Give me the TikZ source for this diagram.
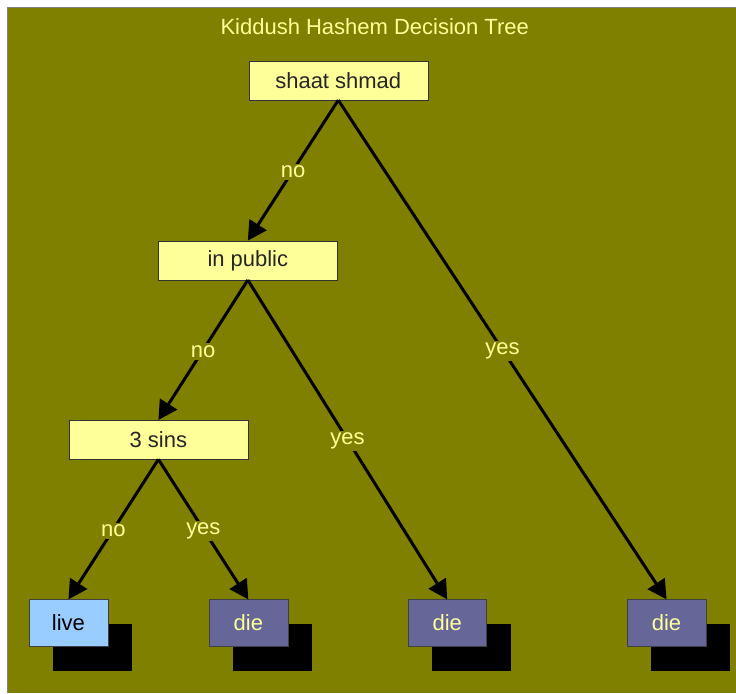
\documentclass[tikz,border=0pt]{standalone}
\usepackage{fontspec}
\setmainfont{Liberation Sans}
\usepackage{xcolor}
\usetikzlibrary{arrows.meta,shadows}

\definecolor{olivebg}{HTML}{808000}
\definecolor{paleyellow}{HTML}{FFFF99}
\definecolor{liveblue}{HTML}{99CCFF}
\definecolor{dieblue}{HTML}{666699}

\begin{document}
\begin{tikzpicture}[
  x=1pt, y=-1pt,
  >={Triangle[length=19pt,width=20pt]},
  txt/.style={font=\fontsize{22}{26}\selectfont},
  question/.style={txt, draw=black!80, fill=paleyellow, text=black!85,
    minimum width=179pt, minimum height=39pt, inner sep=0pt},
  leaf/.style={txt, draw=black!75, minimum width=79pt, minimum height=47pt,
    inner sep=0pt, drop shadow={shadow xshift=24pt, shadow yshift=-24pt,
    fill=black, opacity=1}},
  livebox/.style={leaf, fill=liveblue, text=black},
  diebox/.style={leaf, fill=dieblue, text=paleyellow},
  branch/.style={line width=3pt, ->},
  answer/.style={txt, fill=olivebg, text=paleyellow, inner sep=2pt, yshift=-1.5pt},
]
  % background and frame
  \fill[white] (0,0) rectangle (736,693);
  \fill[olivebg] (8,8) rectangle (736,693);
  \draw[gray, line width=1pt] (8,693) -- (8,8) -- (736,8);

  % title
  \node[txt, text=paleyellow] (title) at (375,27) {Kiddush Hashem Decision Tree};

  % questions
  \node[question] (shmad)  at (338.5,80.5) {shaat shmad};
  \node[question] (public) at (248,260.5) {in public};
  \node[question] (sins)   at (158.5,440) {3 sins};

  % outcomes
  \node[livebox] (live) at (68.5,623.5) {live};
  \node[diebox]  (die1) at (248.5,623.5) {die};
  \node[diebox]  (die2) at (447.5,623.5) {die};
  \node[diebox]  (die3) at (667,623.5) {die};

  % branches
  \draw[branch] (shmad.south) -- node[answer] {no} (public.north);
  \draw[branch] (shmad.south) -- node[answer] {yes} (die3.north);
  \draw[branch] (public.south) -- node[answer] {no} (sins.north);
  \draw[branch] (public.south) -- node[answer] {yes} (die2.north);
  \draw[branch] (sins.south) -- node[answer] {no} (live.north);
  \draw[branch] (sins.south) -- node[answer] {yes} (die1.north);

\end{tikzpicture}
\end{document}
